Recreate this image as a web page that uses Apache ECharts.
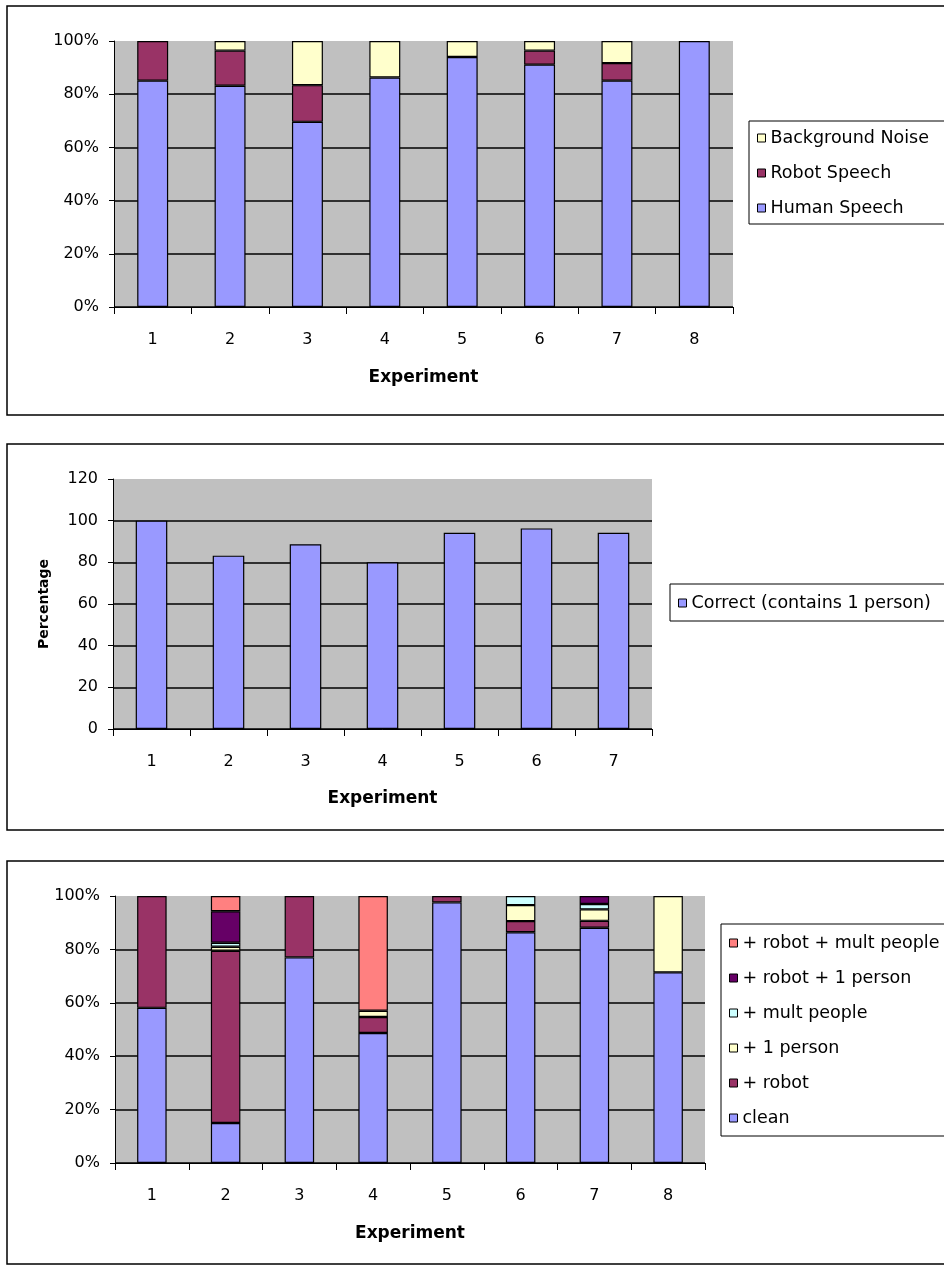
<!DOCTYPE html>
<html>
<head>
<meta charset="utf-8">
<script src="https://cdn.jsdelivr.net/npm/echarts@6/dist/echarts.min.js"></script>
<style>
html,body{margin:0;padding:0;background:#fff;}
#c{width:944px;height:1268px;}
</style>
</head>
<body>
<div id="c"></div>
<script>
// ---- Data ----
const experiments8 = ['1', '2', '3', '4', '5', '6', '7', '8'];
const experiments7 = ['1', '2', '3', '4', '5', '6', '7'];

// Chart 1 (100% stacked)
const humanSpeech     = [85.1, 83.2, 69.6, 86.3, 94.0, 91.1, 85.1, 100];
const robotSpeech     = [14.9, 13.2, 13.8, 0, 0, 5.3, 6.6, 0];
const backgroundNoise = [0, 3.6, 16.6, 13.7, 6.0, 3.6, 8.3, 0];

// Chart 2
const correctOnePerson = [100, 83.2, 88.7, 80, 94.2, 96.3, 94.2];

// Chart 3 (100% stacked)
const clean           = [58.1, 15.0, 77.0, 48.7, 97.6, 86.4, 88.1, 71.4];
const plusRobot       = [41.9, 64.5, 23.0, 6.0, 2.4, 4.2, 2.6, 0];
const plusOnePerson   = [0, 1.5, 0, 2.3, 0, 6.0, 4.3, 28.6];
const plusMultPeople  = [0, 1.5, 0, 0, 0, 3.4, 2.0, 0];
const robotOnePerson  = [0, 11.8, 0, 0, 0, 0, 3.0, 0];
const robotMultPeople = [0, 5.7, 0, 43.0, 0, 0, 0, 0];

const pctTicks = [0, 20, 40, 60, 80, 100];
const numTicks = [0, 20, 40, 60, 80, 100, 120];

// ---- Styles ----
const FONT = 'DejaVu Sans';
const C_HUMAN = '#9999FF', C_ROBOT = '#993366', C_NOISE = '#FFFFCC',
      C_MULT = '#CCFFFF', C_R1 = '#660066', C_RM = '#FF8080';

const nz = arr => arr.map(v => (v === 0 ? '-' : v));

function xAxisCfg(gridIndex, cats, gap) {
  return {
    type: 'category', gridIndex, data: cats,
    name: 'Experiment', nameLocation: 'middle', nameGap: gap,
    nameTextStyle: {fontFamily: FONT, fontWeight: 'bold', fontSize: 17, color: '#000'},
    axisLine: {lineStyle: {color: '#000', width: 1}},
    axisTick: {show: true, inside: false, length: 7, alignWithLabel: false, lineStyle: {color: '#000'}},
    axisLabel: {fontFamily: FONT, fontSize: 16, color: '#000', margin: 25},
    splitLine: {show: false}
  };
}
function yAxisCfg(gridIndex, ticks, pct) {
  const colors = ticks.map((t, i) => (i === ticks.length - 1 ? 'rgba(0,0,0,0)' : '#000'));
  return {
    type: 'value', gridIndex, min: ticks[0], max: ticks[ticks.length - 1],
    interval: ticks[1] - ticks[0],
    axisLine: {show: true, lineStyle: {color: '#000', width: 1}},
    axisTick: {show: true, length: 5, lineStyle: {color: '#000'}},
    axisLabel: {fontFamily: FONT, fontSize: 16, color: '#000', margin: 15,
      formatter: pct ? '{value}%' : '{value}'},
    splitLine: {show: true, lineStyle: {color: colors, width: 1.5}}
  };
}
function barSeries(name, data, color, xi, yi, stack) {
  return {
    type: 'bar', name, data: nz(data), xAxisIndex: xi, yAxisIndex: yi,
    stack, barWidth: '40%',
    itemStyle: {color, borderColor: '#000', borderWidth: 1.2},
    emphasis: {disabled: true}, animation: false
  };
}
function legendCfg(left, top, names, padTop) {
  return {
    orient: 'vertical', left, top, data: names,
    icon: 'rect', itemWidth: 8, itemHeight: 8, itemGap: 17,
    padding: [padTop, 40, padTop - 1, 8],
    backgroundColor: '#fff', borderColor: '#000', borderWidth: 1,
    textStyle: {fontFamily: FONT, fontSize: 17.5, color: '#000', lineHeight: 18},
    itemStyle: {borderColor: '#000', borderWidth: 1},
    selectedMode: false
  };
}

const chart = echarts.init(document.getElementById('c'), null, {renderer: 'canvas'});
chart.setOption({
  backgroundColor: '#fff',
  animation: false,
  graphic: [
    {type: 'rect', shape: {x: 7, y: 6, width: 980, height: 409}, style: {fill: 'none', stroke: '#000', lineWidth: 1.5}, z: -1},
    {type: 'rect', shape: {x: 7, y: 444, width: 980, height: 386}, style: {fill: 'none', stroke: '#000', lineWidth: 1.5}, z: -1},
    {type: 'rect', shape: {x: 7, y: 861, width: 980, height: 403}, style: {fill: 'none', stroke: '#000', lineWidth: 1.5}, z: -1}
  ],
  grid: [
    {left: 114, top: 41, width: 619, height: 266, show: true, backgroundColor: '#C0C0C0', borderWidth: 0, containLabel: false},
    {left: 113, top: 479, width: 539, height: 250, show: true, backgroundColor: '#C0C0C0', borderWidth: 0, containLabel: false},
    {left: 115, top: 896, width: 590, height: 267, show: true, backgroundColor: '#C0C0C0', borderWidth: 0, containLabel: false}
  ],
  xAxis: [
    xAxisCfg(0, experiments8, 62),
    xAxisCfg(1, experiments7, 61),
    xAxisCfg(2, experiments8, 62)
  ],
  yAxis: [
    yAxisCfg(0, pctTicks, true),
    Object.assign(yAxisCfg(1, numTicks, false), {
      name: 'Percentage', nameLocation: 'middle', nameGap: 62, nameRotate: 90,
      nameTextStyle: {fontFamily: FONT, fontWeight: 'bold', fontSize: 14, color: '#000'}
    }),
    yAxisCfg(2, pctTicks, true)
  ],
  legend: [
    legendCfg(749, 121, ['Background Noise', 'Robot Speech', 'Human Speech'], 8),
    legendCfg(670, 584, ['Correct (contains 1 person)'], 10),
    legendCfg(721, 924, ['+ robot + mult people', '+ robot + 1 person', '+ mult people', '+ 1 person', '+ robot', 'clean'], 10)
  ],
  series: [
    barSeries('Human Speech', humanSpeech, C_HUMAN, 0, 0, 's1'),
    barSeries('Robot Speech', robotSpeech, C_ROBOT, 0, 0, 's1'),
    barSeries('Background Noise', backgroundNoise, C_NOISE, 0, 0, 's1'),

    Object.assign(barSeries('Correct (contains 1 person)', correctOnePerson, C_HUMAN, 1, 1, null), {barWidth: '41%'}),

    barSeries('clean', clean, C_HUMAN, 2, 2, 's3'),
    barSeries('+ robot', plusRobot, C_ROBOT, 2, 2, 's3'),
    barSeries('+ 1 person', plusOnePerson, C_NOISE, 2, 2, 's3'),
    barSeries('+ mult people', plusMultPeople, C_MULT, 2, 2, 's3'),
    barSeries('+ robot + 1 person', robotOnePerson, C_R1, 2, 2, 's3'),
    barSeries('+ robot + mult people', robotMultPeople, C_RM, 2, 2, 's3')
  ]
});
</script>
</body>
</html>
